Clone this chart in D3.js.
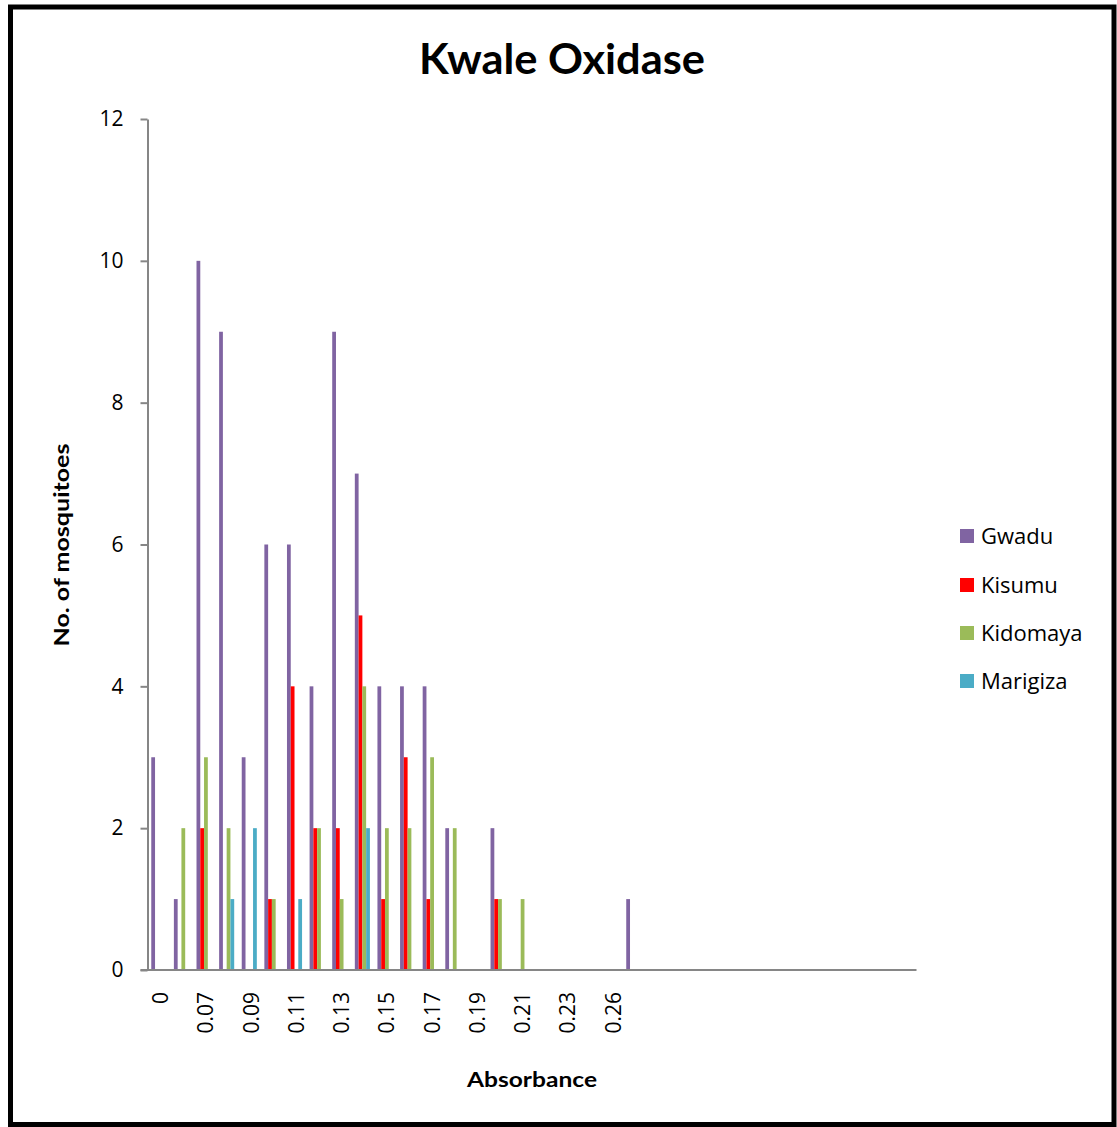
<!DOCTYPE html>
<html>
<head>
<meta charset="utf-8">
<script src="https://cdn.jsdelivr.net/npm/d3@7"></script>
<style>
  html, body { margin: 0; padding: 0; background: #fff; }
  svg { display: block; }
  text { font-family: "Open Sans", Lato, "DejaVu Sans", sans-serif; }
  .bold { font-family: Lato, "Open Sans", sans-serif; }
</style>
</head>
<body>
<svg id="chart" width="1117" height="1127"></svg>
<script>
// Categories (absorbance); trailing empty categories are blank in the original
const categories = ["0","0.06","0.07","0.08","0.09","0.1","0.11","0.12","0.13","0.14",
  "0.15","0.16","0.17","0.18","0.19","0.2","0.21","0.22","0.23","0.25","0.26","0.28",
  "","","","","","","","","","","",""];
const seriesNames = ["Gwadu","Kisumu","Kidomaya","Marigiza"];
const gwadu    = [3,1,10,9,3,6,6,4,9,7,4,4,4,2,0,2,0,0,0,0,0,1,0,0,0,0,0,0,0,0,0,0,0,0];
const kisumu   = [0,0,2,0,0,1,4,2,2,5,1,3,1,0,0,1,0,0,0,0,0,0,0,0,0,0,0,0,0,0,0,0,0,0];
const kidomaya = [0,2,3,2,0,1,0,2,1,4,2,2,3,2,0,1,1,0,0,0,0,0,0,0,0,0,0,0,0,0,0,0,0,0];
const marigiza = [0,0,0,1,2,0,1,0,0,2,0,0,0,0,0,0,0,0,0,0,0,0,0,0,0,0,0,0,0,0,0,0,0,0];
const yTicks = [0,2,4,6,8,10,12];
const colors = ["#8064A2","#FF0000","#9BBB59","#4BACC6"];

const seriesValues = [gwadu, kisumu, kidomaya, marigiza];
const svg = d3.select("#chart");

// outer border
svg.append("rect").attr("x",10.5).attr("y",7).attr("width",1103.5).attr("height",1117.5)
  .attr("fill","#fff").attr("stroke","#000").attr("stroke-width",5);

const plotL = 147.5, plotR = 916.5, plotT = 119, plotB = 970;

const x0 = d3.scaleBand().domain(d3.range(categories.length)).range([plotL, plotR])
  .paddingInner(0).paddingOuter(0);
const x1 = d3.scaleBand().domain(seriesNames).range([0, x0.bandwidth()])
  .paddingInner(0).paddingOuter(1);
const y = d3.scaleLinear().domain([0,12]).range([plotB, plotT]);

// bars
const rows = [];
categories.forEach((c,i) => {
  seriesNames.forEach((s,j) => {
    rows.push({i, s, j, v: seriesValues[j][i]});
  });
});
svg.append("g").selectAll("rect").data(rows.filter(d => d.v > 0)).join("rect")
  .attr("x", d => x0(d.i) + x1(d.s))
  .attr("y", d => y(d.v))
  .attr("width", x1.bandwidth())
  .attr("height", d => y(0) - y(d.v))
  .attr("fill", d => colors[d.j]);

// y axis
const yAxis = svg.append("g").attr("transform", `translate(${plotL},0)`)
  .call(d3.axisLeft(y).tickValues(yTicks).tickSize(7).tickSizeOuter(0).tickPadding(17));
yAxis.selectAll("path, line").attr("stroke","#868686").attr("stroke-width",2);
yAxis.selectAll("text").attr("font-size",21).attr("fill","#000")
  .style("font-family","'Open Sans', sans-serif");

// x axis line
svg.append("line").attr("x1", plotL-7).attr("x2", plotR).attr("y1", plotB).attr("y2", plotB)
  .attr("stroke","#868686").attr("stroke-width",2);

// x labels (every other, as in original)
svg.append("g").selectAll("text")
  .data(categories.map((c,i)=>({c,i})).filter(d => d.i % 2 === 0 && d.c !== ""))
  .join("text")
  .attr("transform", d => `translate(${x0(d.i) + x0.bandwidth()/2 + 2},${992}) rotate(-90)`)
  .attr("text-anchor","end")
  .attr("dy","0.35em")
  .attr("font-size",21)
  .attr("fill","#000")
  .text(d => d.c);

// title
svg.append("text").attr("class","bold").attr("x",562).attr("y",74).attr("text-anchor","middle")
  .attr("font-size",42).attr("font-weight","bold").attr("fill","#000")
  .attr("textLength",286).attr("lengthAdjust","spacingAndGlyphs")
  .text("Kwale Oxidase");

// axis titles
svg.append("text").attr("class","bold").attr("transform","translate(69,545) rotate(-90)")
  .attr("text-anchor","middle").attr("font-size",20).attr("font-weight","bold")
  .attr("textLength",203).attr("lengthAdjust","spacingAndGlyphs")
  .text("No. of mosquitoes");
svg.append("text").attr("class","bold").attr("x",532).attr("y",1087).attr("text-anchor","middle")
  .attr("font-size",20).attr("font-weight","bold")
  .attr("textLength",130).attr("lengthAdjust","spacingAndGlyphs")
  .text("Absorbance");

// legend
const legendY = [536, 585, 633, 681];
const lg = svg.append("g").selectAll("g").data(seriesNames).join("g")
  .attr("transform",(d,i)=>`translate(960,${legendY[i]})`);
lg.append("rect").attr("x",0).attr("y",-7).attr("width",14).attr("height",14)
  .attr("fill",(d,i)=>colors[i]);
lg.append("text").attr("x",21).attr("y",0).attr("dy","0.35em")
  .attr("font-size",22).attr("fill","#000").text(d=>d);
</script>
</body>
</html>
